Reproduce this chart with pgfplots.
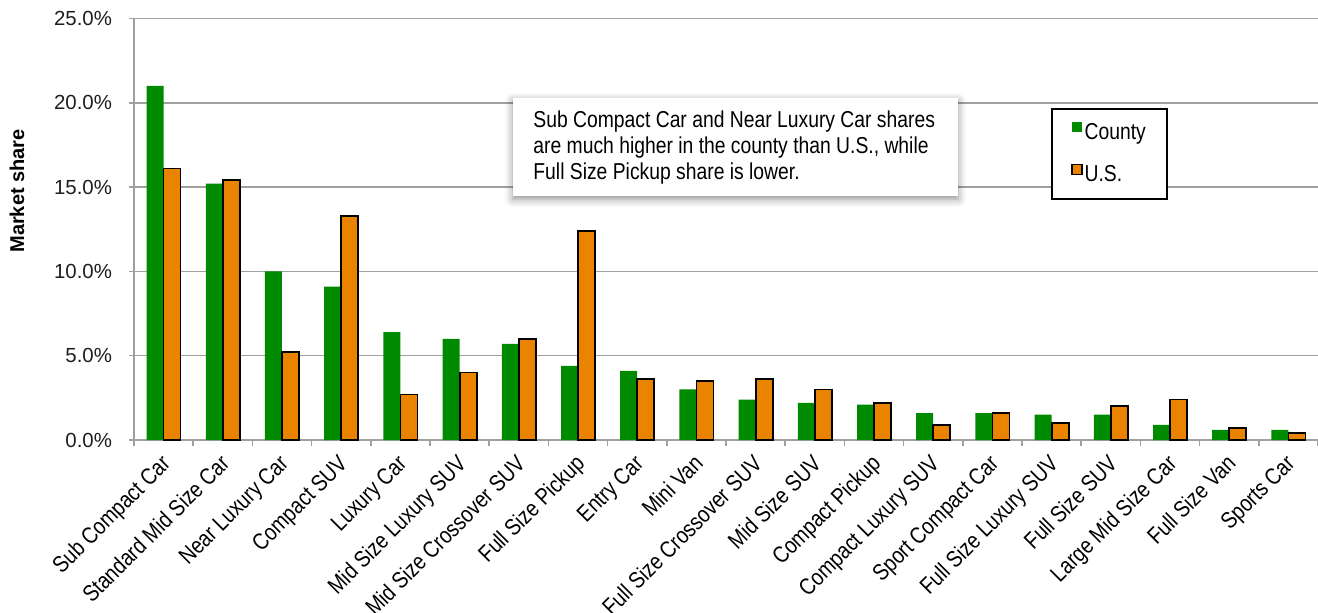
\documentclass[border=0pt]{standalone}
\usepackage{fontspec}
\setmainfont{Liberation Sans}
\newfontfamily\narrowfont{Liberation Sans}[FakeStretch=0.84]
\usepackage{pgfplots}
\pgfplotsset{compat=1.18}
\usetikzlibrary{shadows.blur}

\definecolor{countygreen}{RGB}{0,138,0}
\definecolor{usorange}{RGB}{233,131,0}
\definecolor{gridgray}{RGB}{160,160,160}
\definecolor{labelgray}{RGB}{30,30,30}

\begin{document}
\begin{tikzpicture}
\useasboundingbox (-67pt,-86pt) rectangle (592pt,220pt);
\clip (-67pt,-86pt) rectangle (592pt,220pt);
\begin{axis}[
  width=592pt, height=210.75pt, scale only axis,
  xmin=-0.5, xmax=19.5, ymin=0, ymax=25,
  ybar=0pt, bar width=8.5pt,
  axis x line*=bottom, axis y line*=left,
  axis line style={gridgray, line width=0.75pt},
  tick align=outside,
  major tick length=2.5pt, minor tick length=2.8pt,
  xtick={0,...,19},
  major x tick style={draw=none},
  minor xtick={-0.5,0.5,...,19.5},
  minor x tick style={gridgray, line width=0.75pt},
  y tick style={gridgray, line width=0.75pt},
  xticklabels={Sub Compact Car, Standard Mid Size Car, Near Luxury Car, Compact SUV,
    Luxury Car, Mid Size Luxury SUV, Mid Size Crossover SUV, Full Size Pickup,
    Entry Car, Mini Van, Full Size Crossover SUV, Mid Size SUV, Compact Pickup,
    Compact Luxury SUV, Sport Compact Car, Full Size Luxury SUV, Full Size SUV,
    Large Mid Size Car, Full Size Van, Sports Car},
  xticklabel style={xshift=-2pt, yshift=-2.5pt, rotate=45, anchor=north east, inner sep=1pt,
    font=\narrowfont\fontsize{11.6}{12}\selectfont, text=black},
  ytick={0,5,...,25},
  ymajorgrids,
  grid style={gridgray, line width=0.75pt},
  /pgf/number format/assume math mode=true,
  yticklabel={\pgfmathprintnumber[fixed,fixed zerofill,precision=1]{\tick}\%},
  yticklabel style={font=\fontsize{10.2}{12}\selectfont, text=labelgray, xshift=-5pt},
  ylabel={Market share},
  every axis y label/.style={at={(axis description cs:-0.0988,0.591)}, rotate=90,
    anchor=center, font=\bfseries\fontsize{10}{12}\selectfont},
  legend style={at={(rel axis cs:0.7745,0.7877)}, anchor=north west,
    draw=black, line width=1pt, inner xsep=9.5pt, inner ysep=6.25pt,
    row sep=9.5pt, nodes={inner sep=1pt},
    font=\narrowfont\fontsize{11.5}{13}\selectfont},
  legend cell align=left,
]
\addplot[fill=countygreen, draw=none,
  legend image code/.code={\fill[countygreen] (0pt,0.5pt) rectangle (5pt,5.5pt);}]
  coordinates {(0,21.0) (1,15.2) (2,10.0) (3,9.1) (4,6.4) (5,6.0) (6,5.7) (7,4.4)
    (8,4.1) (9,3.0) (10,2.4) (11,2.2) (12,2.1) (13,1.6) (14,1.6) (15,1.5)
    (16,1.5) (17,0.9) (18,0.6) (19,0.6)};
\addlegendentry{County}
\addplot[fill=usorange, draw=black, line width=0.9pt,
  legend image code/.code={\draw[fill=usorange, draw=black, line width=0.8pt] (0pt,0.5pt) rectangle (5pt,5.5pt);}]
  coordinates {(0,16.1) (1,15.4) (2,5.2) (3,13.3) (4,2.7) (5,4.0) (6,6.0) (7,12.4)
    (8,3.6) (9,3.5) (10,3.6) (11,3.0) (12,2.2) (13,0.9) (14,1.6) (15,1.0)
    (16,2.0) (17,2.4) (18,0.7) (19,0.4)};
\addlegendentry{U.S.}

% callout box with a soft shadow
\path[fill=white, draw=none,
  blur shadow={shadow xshift=0pt, shadow yshift=-1.5pt, shadow blur radius=4pt, shadow opacity=45}]
  (rel axis cs:0.3201,0.8114) rectangle (rel axis cs:0.6959,0.5789);
\node[anchor=west, align=left, inner sep=0pt,
  font=\narrowfont\fontsize{11.5}{13}\selectfont]
  at (rel axis cs:0.3370,0.695)
  {Sub Compact Car and Near Luxury Car shares\\
   are much higher in the county than U.S., while\\
   Full Size Pickup share is lower.};
\end{axis}
\end{tikzpicture}
\end{document}
